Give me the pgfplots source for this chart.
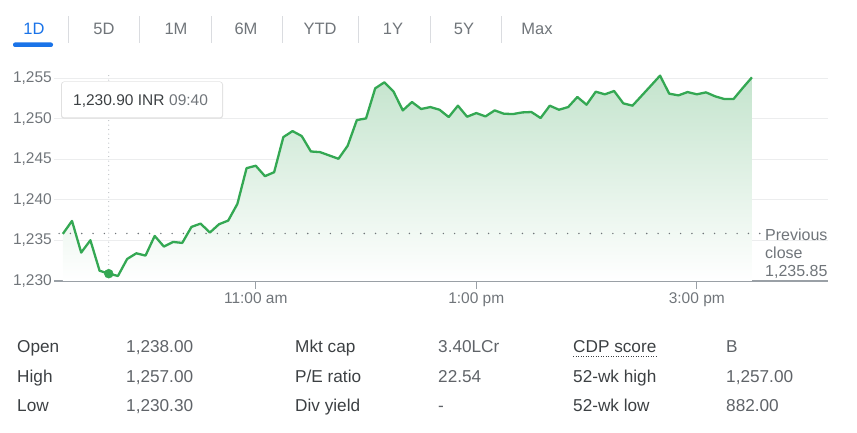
\documentclass[border=0pt]{standalone}
\usepackage{pgfplots}
\pgfplotsset{compat=1.18}
\usepackage{pgfplotstable}
\usepackage{fontspec}
\setmainfont{Liberation Sans}

\definecolor{gline}{RGB}{52,168,83}
\definecolor{gfill}{RGB}{196,228,205}
\definecolor{txtgray}{RGB}{112,117,122}
\definecolor{valgray}{RGB}{95,99,104}
\definecolor{txtdark}{RGB}{60,64,67}
\definecolor{gblue}{RGB}{26,115,232}
\definecolor{sepgray}{RGB}{218,220,224}
\definecolor{basegray}{RGB}{154,160,166}
\definecolor{gridgray}{RGB}{236,237,238}

\pgfplotstableread{
t v
555 1235.80
560 1237.40
565 1233.50
570 1235.02
575 1231.27
580 1230.90
585 1230.62
590 1232.71
595 1233.41
600 1233.13
605 1235.55
610 1234.24
615 1234.81
620 1234.69
625 1236.66
630 1237.07
635 1235.96
640 1236.99
645 1237.44
650 1239.50
655 1243.90
660 1244.19
665 1242.91
670 1243.40
675 1247.72
680 1248.46
685 1247.85
690 1245.95
695 1245.87
700 1245.46
705 1245.05
710 1246.65
715 1249.82
720 1250.02
725 1253.73
730 1254.47
735 1253.31
740 1251.01
745 1252.04
750 1251.18
755 1251.42
760 1251.09
765 1250.19
770 1251.59
775 1250.23
780 1250.68
785 1250.27
790 1251.01
795 1250.60
800 1250.56
805 1250.76
810 1250.81
815 1250.07
820 1251.59
825 1251.09
830 1251.42
835 1252.66
840 1251.71
845 1253.31
850 1252.99
855 1253.40
860 1251.88
865 1251.59
870 1252.82
875 1254.05
880 1255.29
885 1253.07
890 1252.86
895 1253.27
900 1252.99
905 1253.23
910 1252.74
915 1252.41
920 1252.41
925 1253.77
930 1255.08
}\pricedata

\pgfplotstableread{
t v
555 1230.00
555 1235.80
560 1237.40
565 1233.50
570 1235.02
575 1231.27
580 1230.90
585 1230.62
590 1232.71
595 1233.41
600 1233.13
605 1235.55
610 1234.24
615 1234.81
620 1234.69
625 1236.66
630 1237.07
635 1235.96
640 1236.99
645 1237.44
650 1239.50
655 1243.90
660 1244.19
665 1242.91
670 1243.40
675 1247.72
680 1248.46
685 1247.85
690 1245.95
695 1245.87
700 1245.46
705 1245.05
710 1246.65
715 1249.82
720 1250.02
725 1253.73
730 1254.47
735 1253.31
740 1251.01
745 1252.04
750 1251.18
755 1251.42
760 1251.09
765 1250.19
770 1251.59
775 1250.23
780 1250.68
785 1250.27
790 1251.01
795 1250.60
800 1250.56
805 1250.76
810 1250.81
815 1250.07
820 1251.59
825 1251.09
830 1251.42
835 1252.66
840 1251.71
845 1253.31
850 1252.99
855 1253.40
860 1251.88
865 1251.59
870 1252.82
875 1254.05
880 1255.29
885 1253.07
890 1252.86
895 1253.27
900 1252.99
905 1253.23
910 1252.74
915 1252.41
920 1252.41
925 1253.77
930 1255.08
930 1230.00
}\filldata

\begin{document}
\begin{tikzpicture}[x=1pt,y=1pt]
\useasboundingbox (0,0) rectangle (857,433);

% tabs
\foreach \xx/\lab in {104/5D,176/1M,246/6M,320/YTD,393/1Y,464/5Y,537/Max}{
  \node[anchor=base, inner sep=0, font=\fontsize{16.5}{19}\selectfont, text=txtgray] at (\xx,398) {\lab};
}
\node[anchor=base, inner sep=0, font=\fontsize{16.5}{19}\selectfont, text=gblue] at (34,398) {1D};
\foreach \xx in {68,139,211,282,358,430,501}{
  \draw[sepgray, line width=1pt] (\xx,390) -- (\xx,417);
}
\fill[gblue, rounded corners=2] (13,386) rectangle (53,390.5);

\begin{axis}[
  at={(54pt,152pt)}, anchor=south west,
  scale only axis, width=774pt, height=219.24pt,
  xmin=550.2, xmax=971.4, ymin=1230, ymax=1257,
  axis lines*=left,
  axis line style={-},
  x axis line style={basegray, line width=1.5pt},
  y axis line style={draw=none},
  xtick={660,780,900}, xticklabels={11:00 am,1:00 pm,3:00 pm},
  ytick={1230,1235,1240,1245,1250,1255},
  yticklabels={{1,230},{1,235},{1,240},{1,245},{1,250},{1,255}},
  xtick align=outside, ytick align=inside, major tick length=8pt,
  xtick style={basegray, line width=1.2pt},
  ytick style={draw=none},
  ymajorgrids, grid style={gridgray, line width=0.9pt},
  ticklabel style={font=\fontsize{15.5}{18}\selectfont, text=txtgray},
  yticklabel style={anchor=east, inner sep=0pt, xshift=-2pt},
  xticklabel style={anchor=north, inner sep=0pt, yshift=-3pt},
  clip=false,
]
\addplot[draw=none, top color=gfill, bottom color=white] table[x=t,y=v] {\filldata} -- cycle;
\addplot[txtgray, line width=1.6pt, dash pattern=on 0pt off 11.3pt, line cap=round] coordinates {(553,1235.85) (935,1235.85)};
\draw[basegray, line width=1pt, dash pattern=on 0pt off 4.5pt, line cap=round] (axis cs:580,1230.9) -- (axis cs:580,1255.6);
\addplot[gline, line width=2.3pt, line join=round] table[x=t,y=v] {\pricedata};
\addplot[only marks, mark=*, mark size=4.5pt, gline] coordinates {(580,1230.90)};
\end{axis}

% tooltip
\fill[black!12, rounded corners=3] (61,314.3) rectangle (223,351.5);
\fill[white, rounded corners=2.5] (62,315.5) rectangle (222,351);
\node[anchor=base west, inner sep=0, font=\fontsize{15.5}{18}\selectfont, text=txtdark] at (73,327.5) {1,230.90 INR};
\node[anchor=base west, inner sep=0, font=\fontsize{15.5}{18}\selectfont, text=txtgray] at (169,327.5) {09:40};

% previous close label
\foreach \yy/\lab in {192.5/Previous,174.5/close,156.3/{1,235.85}}{
  \node[anchor=base west, inner sep=0, font=\fontsize{16}{18}\selectfont, text=txtgray] at (765,\yy) {\lab};
}

% stats table
\foreach \xx/\yy/\lab in {17/80/Open,17/50/High,17/21.5/Low,295/80/Mkt cap,295/50/P\slash E ratio,295/21.5/Div yield,573/80/CDP score,573/50/52-wk high,573/21.5/52-wk low}{
  \node[anchor=base west, inner sep=0, font=\fontsize{17.2}{20}\selectfont, text=txtdark] at (\xx,\yy) {\lab};
}
\foreach \xx/\yy/\lab in {126/80/{1,238.00},126/50/{1,257.00},126/21.5/{1,230.30},438/80/3.40LCr,438/50/22.54,438/21.5/-,726/80/B,726/50/{1,257.00},726/21.5/882.00}{
  \node[anchor=base west, inner sep=0, font=\fontsize{17.2}{20}\selectfont, text=valgray] at (\xx,\yy) {\lab};
}
\draw[txtdark, line width=1pt, dash pattern=on 1pt off 1.5pt] (573,76) -- (658,76);
\end{tikzpicture}
\end{document}
